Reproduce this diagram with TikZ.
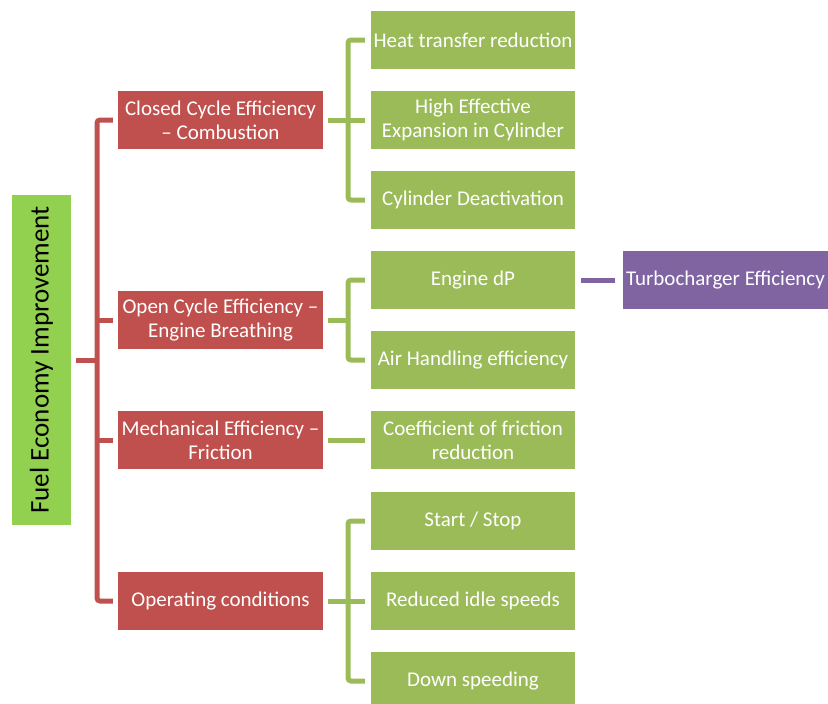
\documentclass[tikz,border=0pt]{standalone}
\usepackage{fontspec}
\setmainfont{Carlito}
\definecolor{rootgreen}{HTML}{92D050}
\definecolor{catred}{HTML}{C0504D}
\definecolor{leafgreen}{HTML}{9BBB59}
\definecolor{turbopurple}{HTML}{8064A2}
\usetikzlibrary{positioning, calc}

\begin{document}
\begin{tikzpicture}[
        x=1pt, y=-1pt,
        every node/.style={font=\fontsize{21}{24}\selectfont, align=center, inner sep=0pt},
        rootbox/.style={fill=rootgreen, minimum width=59pt, minimum height=330pt, font=\fontsize{27}{30}\selectfont},
        catbox/.style={fill=catred, text=white, minimum width=205pt, minimum height=58pt},
        leafbox/.style={fill=leafgreen, text=white, minimum width=204pt, minimum height=58pt},
        turbobox/.style={fill=turbopurple, text=white, minimum width=205pt, minimum height=58pt},
        redline/.style={draw=catred, line width=5pt, rounded corners=3pt},
        greenline/.style={draw=leafgreen, line width=5pt, rounded corners=3pt},
        purpleline/.style={draw=turbopurple, line width=5pt}
      ]
      \useasboundingbox (0,0) rectangle (828,704);
      \node[rootbox] (root) at (41.5,360) {\rotatebox{90}{Fuel Economy Improvement}};

      \node[catbox] (closed) at (220.5,120) {Closed Cycle Efficiency\\– Combustion};
      \node[catbox] (open) at (220.5,320) {Open Cycle Efficiency –\\Engine Breathing};
      \node[catbox] (mech) at (220.5,440) {Mechanical Efficiency –\\Friction};
      \node[catbox] (oper) at (220.5,601) {Operating conditions};

      \node[leafbox] (heat) at (473,40) {Heat transfer reduction};
      \node[leafbox] (expansion) at (473,120) {High Effective\\Expansion in Cylinder};
      \node[leafbox] (deact) at (473,200) {Cylinder Deactivation};
      \node[leafbox] (dp) at (473,280) {Engine dP};
      \node[leafbox] (air) at (473,360) {Air Handling efficiency};
      \node[leafbox] (fric) at (473,440) {Coefficient of friction\\reduction};
      \node[leafbox] (start) at (473,521) {Start / Stop};
      \node[leafbox] (idle) at (473,601) {Reduced idle speeds};
      \node[leafbox] (down) at (473,681) {Down speeding};

      \node[turbobox] (turbo) at (725.5,280) {Turbocharger Efficiency};

      \coordinate (trunk) at (97,360);
      \draw[redline] ([xshift=-5pt]closed.west) -| (trunk) |- ([xshift=-5pt]oper.west);
      \draw[redline] ([xshift=5pt]root.east) -- (trunk);
      \draw[redline] (trunk |- open.west) -- ([xshift=-5pt]open.west);
      \draw[redline] (trunk |- mech.west) -- ([xshift=-5pt]mech.west);

      \coordinate (split) at (348,0);
      \draw[greenline] ([xshift=-6pt]heat.west) -| (split |- closed.east) |- ([xshift=-6pt]deact.west);
      \draw[greenline] ([xshift=5pt]closed.east) -- ([xshift=-6pt]expansion.west);
      \draw[greenline] ([xshift=-6pt]dp.west) -| (split |- open.east) |- ([xshift=-6pt]air.west);
      \draw[greenline] ([xshift=5pt]open.east) -- (split |- open.east);
      \draw[greenline] ([xshift=5pt]mech.east) -- ([xshift=-6pt]fric.west);
      \draw[greenline] ([xshift=-6pt]start.west) -| (split |- oper.east) |- ([xshift=-6pt]down.west);
      \draw[greenline] ([xshift=5pt]oper.east) -- ([xshift=-6pt]idle.west);

      \draw[purpleline] ([xshift=6pt]dp.east) -- ([xshift=-8pt]turbo.west);
\end{tikzpicture}
\end{document}
